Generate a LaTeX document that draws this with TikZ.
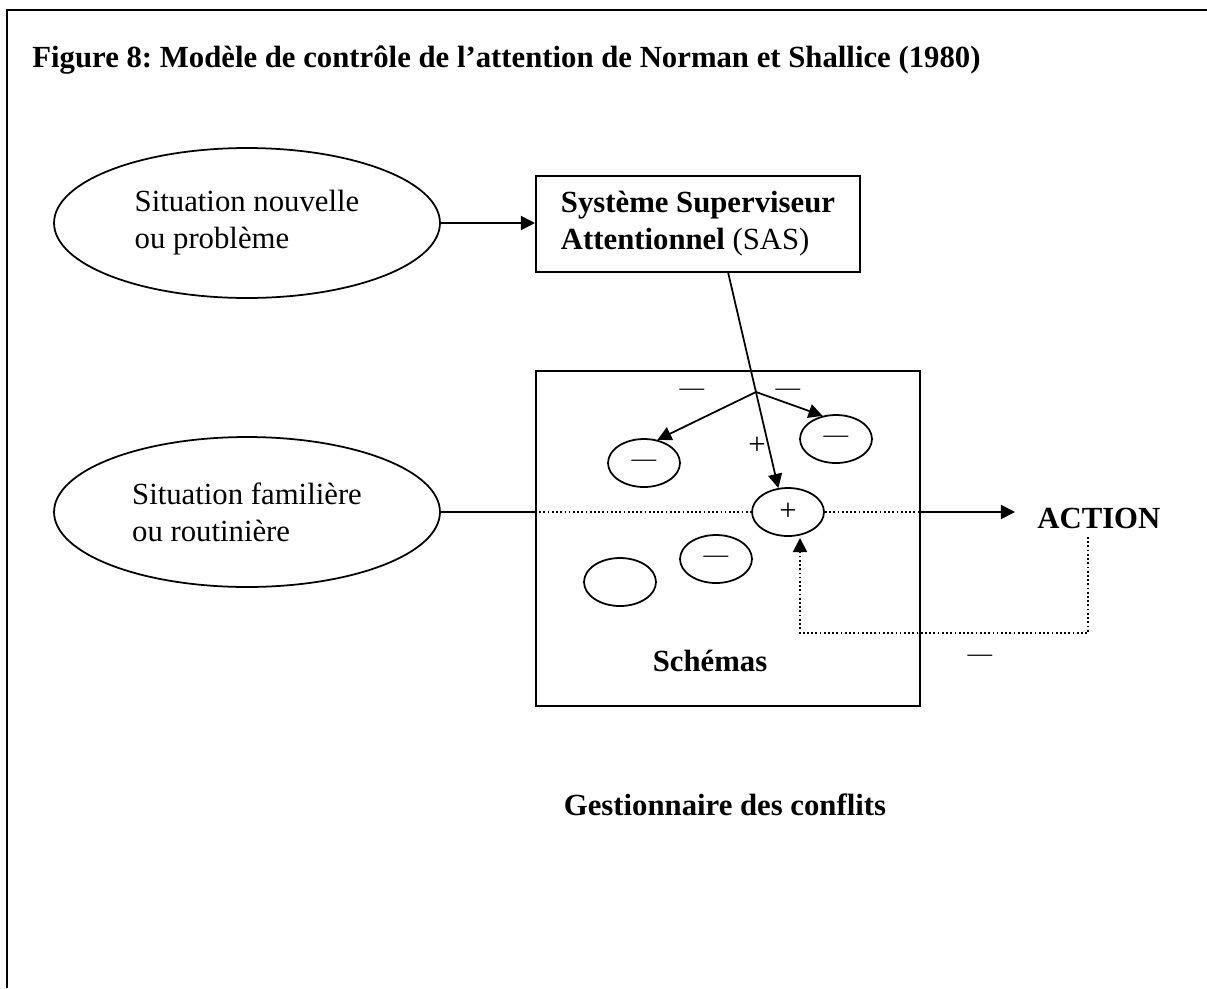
\documentclass[tikz,border=0pt]{standalone}
\usepackage{fontspec}
\setmainfont{Liberation Serif}
\usetikzlibrary{shapes.geometric, arrows.meta}
\frenchspacing

\newcommand{\corps}{\fontsize{17.5}{21}\selectfont}

\tikzset{
  situation/.style={ellipse, draw, line width=1pt, minimum width=7.72cm, minimum height=3cm, align=left, inner sep=0pt},
  schema/.style={ellipse, draw, line width=1pt, fill=white, minimum width=1.44cm, minimum height=0.96cm, inner sep=0pt},
  cadre/.style={rectangle, draw, line width=1.2pt},
  texte/.style={inner sep=0pt},
  gras/.style={inner sep=0pt, font=\corps\bfseries},
  signe/.style={inner sep=0pt, font=\fontsize{14}{14}\selectfont},
  lien/.style={line width=1pt},
  pointille/.style={line width=1pt, dash pattern=on 1pt off 1.4pt},
}

\begin{document}
\begin{tikzpicture}[x=0.02cm, y=-0.02cm, >={Triangle[length=8pt, width=8pt]},
                    font=\corps]
    \useasboundingbox (0,0) rectangle (1207,988);

    % cadre de la figure
    \draw[line width=1.2pt] (1207,10) -| (7,988);
    \node [gras, anchor=base west] (titre) at (32,67)
          {Figure 8: Modèle de contrôle de l’attention de Norman et Shallice (1980)};

    \node [situation] (nouvelle) at (247,223) {Situation nouvelle\\ou problème};
    \node [situation] (familiere) at (247,512) {Situation familière\\ou routinière};
    \node [cadre, minimum width=6.48cm, minimum height=1.92cm, align=left] (sas) at (698,224)
          {\textbf{Système Superviseur}\\\textbf{Attentionnel} (SAS)};
    \node [cadre, minimum width=7.68cm, minimum height=6.7cm] (schemas) at (728,538.5) {};

    % schemas
    \node [schema] (m1) at (644,463) {\fontsize{14}{14}\selectfont —};
    \node [schema] (m2) at (836,439) {\fontsize{14}{14}\selectfont —};
    \node [schema] (p) at (788,512) {+};
    \node [schema] (m3) at (716,559) {\fontsize{14}{14}\selectfont —};
    \node [schema] (vide) at (620,582) {};

    \node [signe] (moins1) at (692,392) {—};
    \node [signe] (moins2) at (788,392) {—};
    \node [texte] (plus) at (757,446) {+};
    \node [signe] (moins3) at (980,658) {—};

    \node [gras, anchor=base west] (action) at (1037,528) {ACTION};
    \node [gras, anchor=base] (schtxt) at (710,671) {Schémas};
    \node [gras, anchor=base] (gest) at (725,815) {Gestionnaire des conflits};

    \coordinate (depart) at (728,272);
    \coordinate (fourche) at (756,392);
    \coordinate (fleche) at (1015,512);
    \coordinate (retour) at (1088,537);
    \coordinate (coin) at (800,633);
    \coordinate (pointe) at (800,538);

    \draw[lien,->] (nouvelle.east) -- (sas.west |- nouvelle.east);
    \draw[lien,->] (depart) -- (p.112);
    \draw[lien,->] (fourche) -- (m1.60);
    \draw[lien,->] (fourche) -- (m2.120);
    \draw[lien] (familiere.east) -- (schemas.west |- familiere.east);
    \draw[pointille] (schemas.west |- p) -- (p.west);
    \draw[pointille] (p.east) -- (schemas.east |- p);
    \draw[lien,->] (schemas.east |- p) -- (fleche);
    \draw[pointille,->] (retour) |- (coin) -- (pointe);
\end{tikzpicture}
\end{document}
